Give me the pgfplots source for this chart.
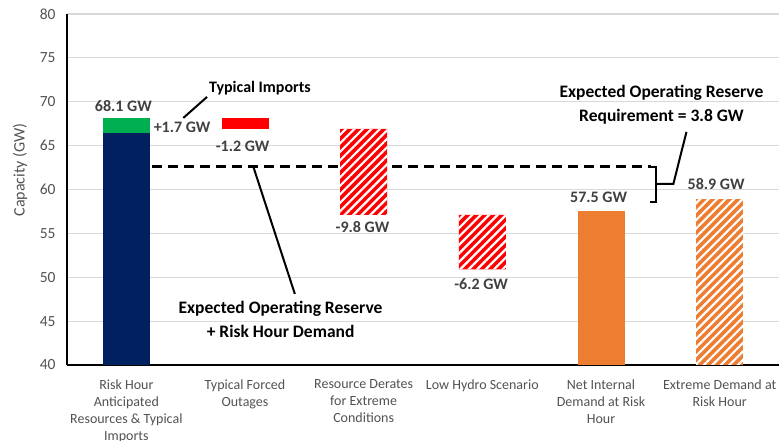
\documentclass[border=0pt]{standalone}
\usepackage{fontspec}
\setmainfont{Carlito}
\usepackage{pgfplots}
\pgfplotsset{compat=1.18}
\usetikzlibrary{patterns.meta}

\definecolor{navy}{HTML}{002060}
\definecolor{xlgreen}{HTML}{00B050}
\definecolor{xlorange}{HTML}{ED7D31}
\definecolor{txtgray}{HTML}{525252}
\definecolor{valgray}{HTML}{404040}
\definecolor{gridgray}{HTML}{D9D9D9}

\tikzset{
  hatch/.style={fill=#1, postaction={pattern={Lines[angle=45,distance=6pt,line width=2.2pt]}, pattern color=white}},
  val/.style={font=\bfseries\fontsize{16}{19}\selectfont, text=valgray},
  note/.style={font=\bfseries\fontsize{17.5}{24}\selectfont, align=center},
}

\begin{document}
\begin{tikzpicture}
\begin{axis}[
  at={(0,0)}, anchor=south west,
  scale only axis, width=712pt, height=351pt,
  xmin=-0.5, xmax=5.5, ymin=40, ymax=80,
  ytick={40,45,...,80},
  xtick={0,...,5},
  xticklabels={{Risk Hour\\Anticipated\\Resources \& Typical\\Imports},
               {Typical Forced\\Outages},
               {Resource Derates\\for Extreme\\Conditions},
               {Low Hydro Scenario},
               {Net Internal\\Demand at Risk\\Hour},
               {Extreme Demand at\\Risk Hour}},
  ybar stacked, bar width=47pt,
  axis x line*=bottom, axis y line*=left,
  axis line style={black, line width=1.8pt, -},
  ymajorgrids, major grid style={gridgray, line width=1.2pt},
  major tick length=0pt,
  /pgf/number format/assume math mode=true,
  yticklabel style={font=\fontsize{15.5}{18}\selectfont, text=txtgray, xshift=-8pt},
  xticklabel style={align=center, font=\fontsize{14}{17}\selectfont, text=txtgray, yshift=-11pt},
  ylabel={Capacity (GW)},
  ylabel style={at={(axis description cs:-0.066,0.556)}, anchor=center,
                font=\fontsize{16}{19}\selectfont, text=txtgray},
]
% invisible base of the floating bars
\addplot[draw=none, fill=none] coordinates {(0,0) (1,66.9) (2,57.1) (3,50.9) (4,0) (5,0)};
% anticipated resources
\addplot[draw=none, fill=navy] coordinates {(0,66.4) (1,0) (2,0) (3,0) (4,0) (5,0)};
% typical imports
\addplot[draw=none, fill=xlgreen] coordinates {(0,1.7) (1,0) (2,0) (3,0) (4,0) (5,0)};
% forced outages
\addplot[draw=none, fill=red] coordinates {(0,0) (1,1.2) (2,0) (3,0) (4,0) (5,0)};
% derates and low hydro
\addplot[draw=none, hatch=red] coordinates {(0,0) (1,0) (2,9.8) (3,6.2) (4,0) (5,0)};
% demand
\addplot[draw=none, fill=xlorange] coordinates {(0,0) (1,0) (2,0) (3,0) (4,57.5) (5,0)};
% extreme demand
\addplot[draw=none, hatch=xlorange] coordinates {(0,0) (1,0) (2,0) (3,0) (4,0) (5,58.9)};

% reserve + demand line
\addplot[stack plots=false, sharp plot, black, line width=2.6pt, dash pattern=on 10pt off 6pt]
  coordinates {(0.22,62.6) (4.42,62.6)};
% bracket
\addplot[stack plots=false, sharp plot, black, line width=2pt]
  coordinates {(4.40,62.6) (4.46,62.6) (4.46,58.6) (4.41,58.6)};
\addplot[stack plots=false, sharp plot, black, line width=2pt]
  coordinates {(4.46,60.64) (4.61,60.64) (4.72,66.56)};
% pointers
\addplot[stack plots=false, sharp plot, black, line width=2pt]
  coordinates {(1.07,62.6) (1.42,48.1)};
\addplot[stack plots=false, sharp plot, black, line width=2pt]
  coordinates {(0.48,68.15) (0.68,70.55)};

\node[val] at (axis cs:-0.025,69.52) {68.1 GW};
\node[val] at (axis cs:0.47,67.13) {+1.7 GW};
\node[val] at (axis cs:0.98,64.97) {-1.2 GW};
\node[val] at (axis cs:1.99,55.74) {-9.8 GW};
\node[val] at (axis cs:2.99,49.25) {-6.2 GW};
\node[val] at (axis cs:3.98,59.16) {57.5 GW};
\node[val] at (axis cs:4.97,60.64) {58.9 GW};
\node[font=\bfseries\fontsize{16}{19}\selectfont] at (axis cs:1.126,71.57) {Typical Imports};
\node[note] at (axis cs:1.30,45.15) {Expected Operating Reserve\\+ Risk Hour Demand};
\node[note] at (axis cs:4.51,69.64) {Expected Operating Reserve\\Requirement = 3.8 GW};
\end{axis}
\pgfresetboundingbox
\path[use as bounding box] (-67pt,-76pt) rectangle (712pt,365pt);
\end{tikzpicture}
\end{document}
